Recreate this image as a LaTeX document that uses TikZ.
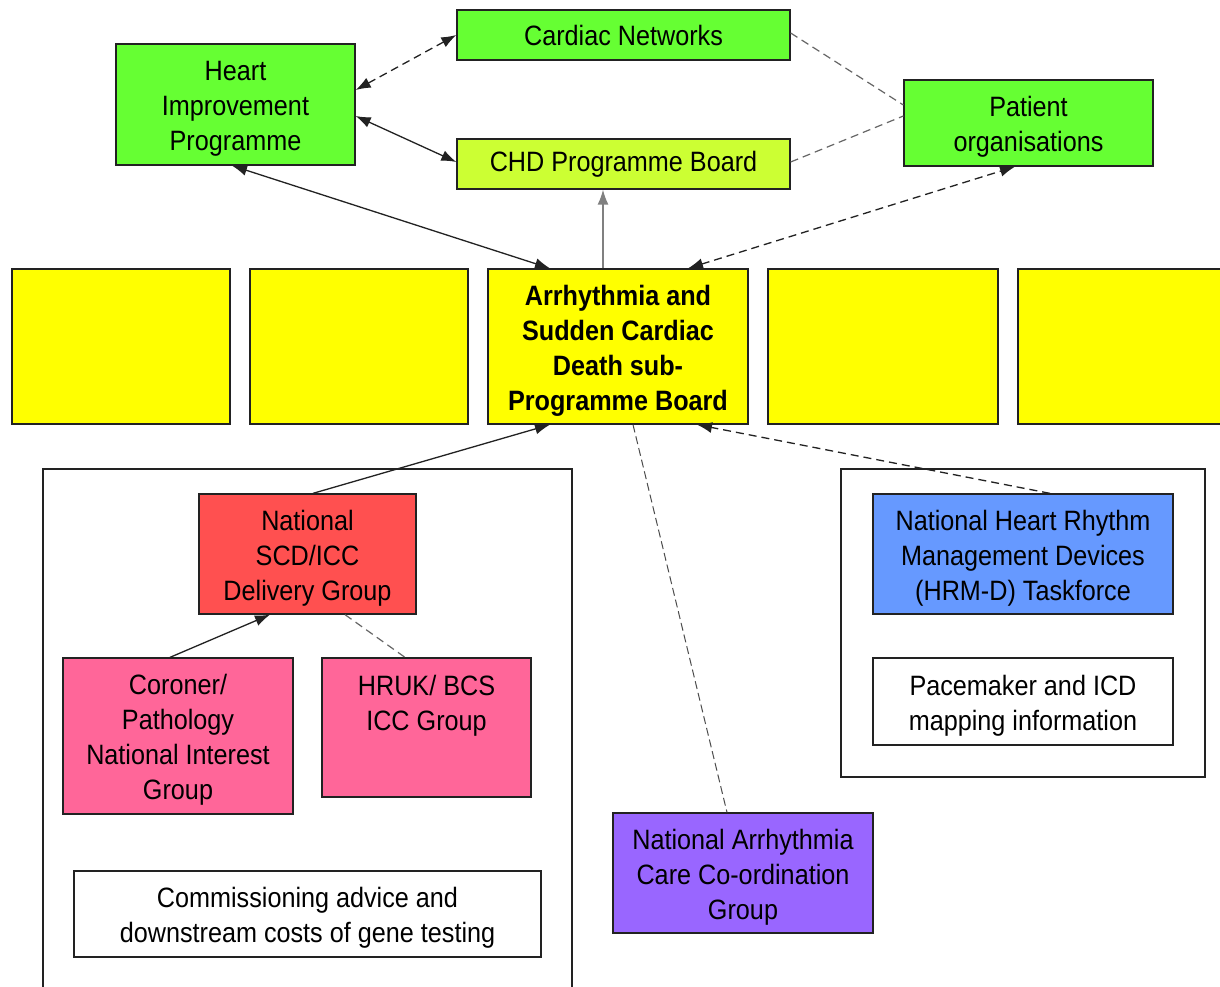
\documentclass[tikz,border=0pt]{standalone}
\usepackage{fontspec}
\setmainfont{Liberation Sans}[FakeStretch=0.9]
\usetikzlibrary{arrows.meta}
\definecolor{cgreen}{HTML}{66FF33}
\definecolor{cchd}{HTML}{CCFF33}
\definecolor{cyel}{HTML}{FFFF00}
\definecolor{cred}{HTML}{FF5050}
\definecolor{cpink}{HTML}{FF6699}
\definecolor{cblue}{HTML}{6699FF}
\definecolor{cpurple}{HTML}{9966FF}
\definecolor{cline}{HTML}{222222}
\newcommand\tp{\rule{0pt}{30pt}}
\newcommand\bt{\rule[-8pt]{0pt}{8pt}}
\begin{document}
\begin{tikzpicture}[x=1pt,y=-1pt,
  box/.style={draw=cline, line width=1.3pt, inner sep=0pt, align=center, font=\fontsize{28}{35}\selectfont},
  txt/.style={inner sep=0pt, align=center, font=\fontsize{28}{35}\selectfont},
  grp/.style={draw=cline, line width=1.3pt},
  conn/.style={draw=cline, line width=1.3pt},
  dconn/.style={draw=cline, line width=1.3pt, dash pattern=on 8pt off 5pt},
  gdash/.style={draw=black!60, line width=1.2pt, dash pattern=on 8pt off 5pt},
  thindash/.style={draw=black!70, line width=1pt, dash pattern=on 8pt off 4pt},
  both/.style={{Latex[length=15pt,width=11pt]}-{Latex[length=15pt,width=11pt]}},
  one/.style={-{Latex[length=15pt,width=11pt]}}]
\clip (0,0) rectangle (1220,987);
\fill[white] (0,0) rectangle (1220,987);
% group frames
\draw[grp] (43,1000) -- (43,469) -- (572,469) -- (572,1000);
\draw[grp] (841,469) rectangle (1205,777);
% top boxes
\node[box, fill=cgreen, minimum width=333pt, minimum height=50pt] (cn) at (623.5,35) {Cardiac Networks};
\node[box, fill=cchd, minimum width=333pt, minimum height=50pt] (chd) at (623.5,164) {CHD Programme Board};
\node[box, fill=cgreen, minimum width=239pt, minimum height=121pt] (hip) at (235.5,104.5) {\tp Heart\\Improvement\\Programme\bt};
\node[box, fill=cgreen, minimum width=249pt, minimum height=86pt] (pat) at (1028.5,123) {\tp Patient\\organisations\bt};
% yellow row
\node[box, fill=cyel, minimum width=218pt, minimum height=155pt] (y1) at (121,346.5) {};
\node[box, fill=cyel, minimum width=218pt, minimum height=155pt] (y2) at (359,346.5) {};
\node[box, fill=cyel, minimum width=260pt, minimum height=155pt, font=\fontsize{28}{35}\selectfont\bfseries] (main) at (618,346.5) {\tp Arrhythmia and\\Sudden Cardiac\\Death sub-\\Programme Board\bt};
\node[box, fill=cyel, minimum width=230pt, minimum height=155pt] (y4) at (883,346.5) {};
\node[box, fill=cyel, minimum width=222pt, minimum height=155pt] (y5) at (1129,346.5) {};
% left group
\node[box, fill=cred, minimum width=217pt, minimum height=120pt] (scd) at (307.5,554) {\tp National\\SCD/ICC\\Delivery Group\bt};
\node[box, fill=cpink, minimum width=230pt, minimum height=156pt] (cor) at (178,736) {\tp Coroner/\\Pathology\\National Interest\\Group\bt};
\node[box, fill=cpink, minimum width=209pt, minimum height=139pt] (hruk) at (426.5,727.5) {};
\node[txt] (hrukt) at (426.5,702) {\tp HRUK/ BCS\\ICC Group\bt};
\node[box, fill=white, minimum width=467pt, minimum height=86pt] (comm) at (307.5,914) {\tp Commissioning advice and\\downstream costs of gene testing\bt};
% purple
\node[box, fill=cpurple, minimum width=260pt, minimum height=120pt] (pur) at (743,873) {\tp National Arrhythmia\\Care Co-ordination\\Group\bt};
% right group
\node[box, fill=cblue, minimum width=300pt, minimum height=120pt] (blue) at (1023,554) {\tp National Heart Rhythm\\Management Devices\\(HRM-D) Taskforce\bt};
\node[box, fill=white, minimum width=300pt, minimum height=87pt] (pace) at (1023,701.5) {\tp Pacemaker and ICD\\mapping information\bt};
% connectors
\draw[dconn, both] ([yshift=14.5pt]hip.east) -- (cn.west);
\draw[conn, both] ([yshift=-11.5pt]hip.east) -- ([yshift=2pt]chd.west);
\draw[gdash] ([yshift=2pt]cn.east) -- ([yshift=18pt]pat.west);
\draw[gdash] ([yshift=2pt]chd.east) -- ([yshift=7pt]pat.west);
\draw[conn, both] ([xshift=-68pt]main.north) -- ([xshift=-3.5pt]hip.south);
\draw[draw=black!50, line width=1.5pt, one] ([xshift=-15pt]main.north) -- ([xshift=-20.5pt]chd.south);
\draw[dconn, both] ([xshift=70pt]main.north) -- ([xshift=-13.5pt]pat.south);
\draw[conn, one] ([xshift=5.5pt]scd.north) -- ([xshift=-68pt]main.south);
\draw[conn, one] ([xshift=-8pt]cor.north) -- ([xshift=-37.5pt]scd.south);
\draw[gdash] ([xshift=37.5pt]scd.south) -- ([xshift=-21.5pt]hruk.north);
\draw[thindash] ([xshift=15pt]main.south) -- ([xshift=-16pt]pur.north);
\draw[dconn, one] ([xshift=27pt]blue.north) -- ([xshift=79pt]main.south);
\end{tikzpicture}
\end{document}
